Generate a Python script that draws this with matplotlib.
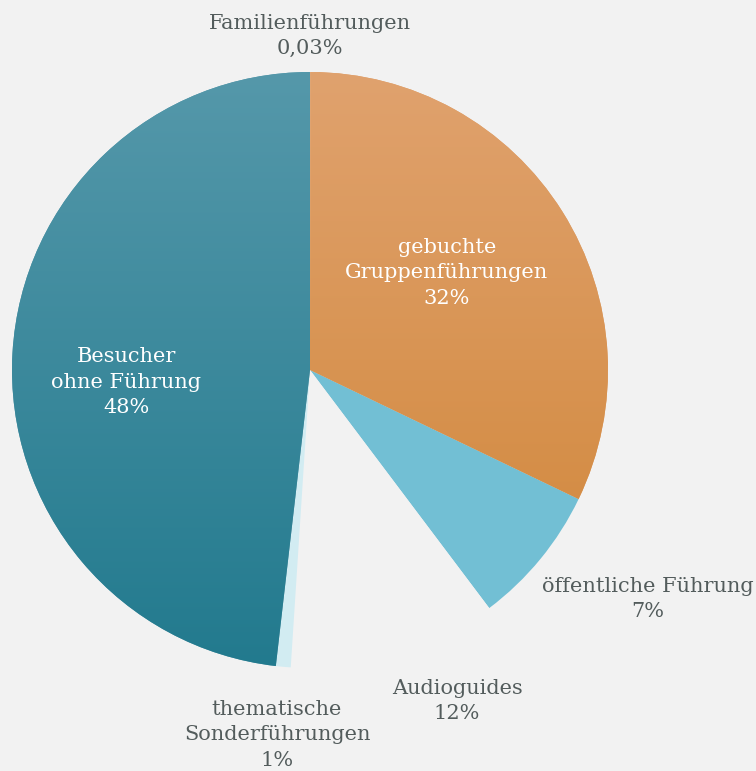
import numpy as np
import matplotlib.pyplot as plt
from matplotlib.colors import LinearSegmentedColormap

# data
labels = ["Familienführungen", "gebuchte\nGruppenführungen", "öffentliche Führung",
          "Audioguides", "thematische\nSonderführungen", "Besucher\nohne Führung"]
pct_text = ["0,03%", "32%", "7%", "12%", "1%", "48%"]
values = [0.03, 32.1, 7.6, 11.3, 0.8, 48.17]
colors = ["#e0a06c", "#e0a06c", "#72bfd4", "#f2f2f2", "#d2ecf2", "#5295a8"]
# gradient ends (top, bottom) for the two big slices
grad = {1: ("#e0a26e", "#d08536"), 5: ("#5598aa", "#227a8e"), 0: ("#e0a26e", "#d08536")}
# label centres in pixel coords (x, y from top)
label_pos = [(310, 36), (447, 273), (648, 599), (457, 701), (277, 735), (126, 382)]
label_col = ["#535c5c", "white", "#535c5c", "#535c5c", "#535c5c", "white"]

W, H = 756, 771
bg = "#f2f2f2"
fig = plt.figure(figsize=(W / 100, H / 100), dpi=100, facecolor=bg)
ax = fig.add_axes([0, 0, 1, 1])
ax.set_facecolor(bg)

cx, cy, R = 310, H - 370, 298
wedges, _ = ax.pie(values, colors=colors, startangle=90, counterclock=False,
                   center=(cx, cy), radius=R, frame=True,
                   wedgeprops=dict(linewidth=0))
ax.set_xlim(0, W)
ax.set_ylim(0, H)
ax.set_aspect("equal")
ax.axis("off")

# vertical gradients clipped to the wedges
for i, (top, bot) in grad.items():
    w = wedges[i]
    cmap = LinearSegmentedColormap.from_list("g%d" % i, [bot, top])
    g = np.linspace(0, 1, 256).reshape(-1, 1)
    im = ax.imshow(g, cmap=cmap, origin="lower", aspect="auto",
                   extent=(cx - R, cx + R, cy - R, cy + R), zorder=w.get_zorder() + 0.1)
    im.set_clip_path(w)

for (lab, pt, (x, y), c) in zip(labels, pct_text, label_pos, label_col):
    ax.text(x, H - y, lab + "\n" + pt, ha="center", va="center", color=c,
            fontsize=15, family="DejaVu Serif", linespacing=1.45, zorder=10)

fig.savefig("out.png", dpi=100, facecolor=bg)
